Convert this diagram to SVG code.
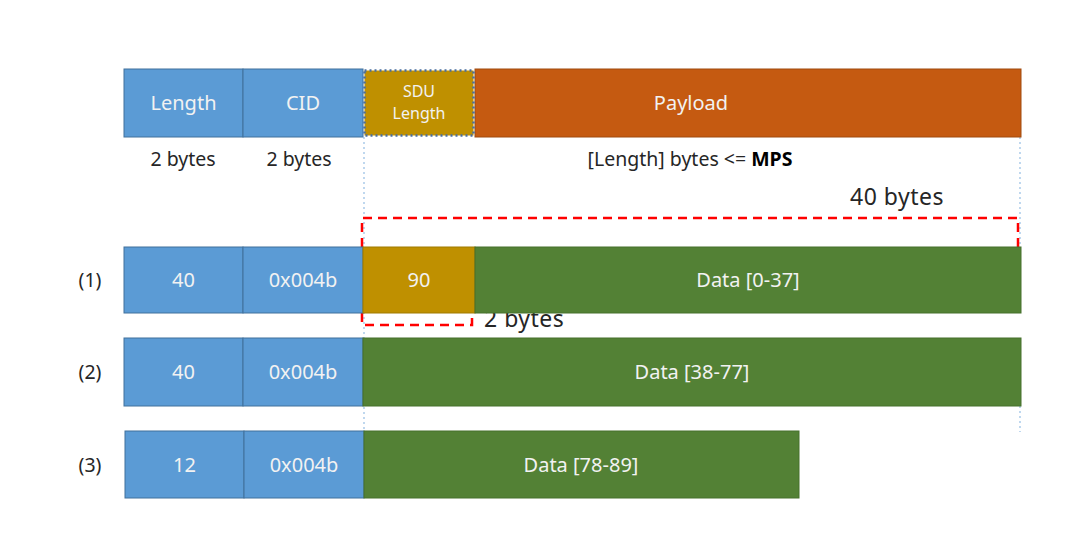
<svg xmlns="http://www.w3.org/2000/svg" width="1088" height="545" viewBox="0 0 1088 545">
<style>
.blue{fill:#5B9BD5;stroke:#41719C;stroke-width:1}
.orange{fill:#C55A11;stroke:#A04A0E;stroke-width:1}
.gold{fill:#BF9000;stroke:#A07A00;stroke-width:1}
.sdu{fill:#BF9000;stroke:#4A6FA0;stroke-width:2.5;stroke-dasharray:2 3}
.green{fill:#538135;stroke:#46702C;stroke-width:1}
.ct{font-family:"Noto Sans","Open Sans",sans-serif;font-size:20px;fill:#F2F2F2;text-anchor:middle}
.st{font-family:"Noto Sans","Open Sans",sans-serif;font-size:16px;fill:#F2F2F2;text-anchor:middle}
.lt{font-family:"Noto Sans","Open Sans",sans-serif;font-size:19.5px;fill:#262626;text-anchor:middle}
.bt{font-family:"Noto Sans","Open Sans",sans-serif;font-size:23px;letter-spacing:0.5px;fill:#262626}
.guide{stroke:#9DC3E6;stroke-width:1.3;stroke-dasharray:2 3;fill:none}
.red{stroke:#FF0000;stroke-width:2.5;stroke-dasharray:9 6;fill:none}
</style>
<rect width="1088" height="545" fill="#FFFFFF"/>
<g id="connectors">
<line class="guide" x1="364" y1="137" x2="364" y2="432"/>
<line class="guide" x1="1020" y1="137" x2="1020" y2="247"/>
<line class="guide" x1="1020" y1="406" x2="1020" y2="432"/>
<polyline class="red" points="1018,247 1018,218 362,218 362,325 472,325 472,313"/>
</g>
<g id="header">
<rect class="blue" x="124" y="69" width="119" height="68"/>
<text class="ct" x="183.5" y="110">Length</text>
<rect class="blue" x="243" y="69" width="120" height="68"/>
<text class="ct" x="303" y="110">CID</text>
<rect class="orange" x="475" y="69" width="546" height="68"/>
<text class="ct" x="691" y="110">Payload</text>
<rect class="sdu" x="364.5" y="70.5" width="109" height="65"/>
<text class="st" x="419" y="97">SDU</text>
<text class="st" x="419" y="119">Length</text>
</g>
<g id="header-labels">
<text class="lt" x="183" y="166">2 bytes</text>
<text class="lt" x="299" y="166">2 bytes</text>
<text class="lt" x="690" y="166">[Length] bytes &lt;= <tspan font-weight="bold" fill="#000">MPS</tspan></text>
<text class="bt" x="850" y="205">40 bytes</text>
<text class="bt" x="484" y="327">2 bytes</text>
</g>
<g id="row1">
<text class="lt" x="90" y="287">(1)</text>
<rect class="blue" x="124" y="247" width="119" height="66"/>
<text class="ct" x="183.5" y="287">40</text>
<rect class="blue" x="243" y="247" width="120" height="66"/>
<text class="ct" x="303" y="287">0x004b</text>
<rect class="gold" x="363" y="247" width="112" height="66"/>
<text class="ct" x="419" y="287">90</text>
<rect class="green" x="475" y="247" width="546" height="66"/>
<text class="ct" x="748" y="287">Data [0-37]</text>
</g>
<g id="row2">
<text class="lt" x="90" y="379">(2)</text>
<rect class="blue" x="124" y="338" width="119" height="68"/>
<text class="ct" x="183.5" y="379">40</text>
<rect class="blue" x="243" y="338" width="120" height="68"/>
<text class="ct" x="303" y="379">0x004b</text>
<rect class="green" x="363" y="338" width="658" height="68"/>
<text class="ct" x="692" y="379">Data [38-77]</text>
</g>
<g id="row3">
<text class="lt" x="90" y="472">(3)</text>
<rect class="blue" x="125" y="431" width="119" height="67"/>
<text class="ct" x="184.5" y="472">12</text>
<rect class="blue" x="244" y="431" width="120" height="67"/>
<text class="ct" x="304" y="472">0x004b</text>
<rect class="green" x="364" y="431" width="435" height="67"/>
<text class="ct" x="581" y="472">Data [78-89]</text>
</g>
</svg>
